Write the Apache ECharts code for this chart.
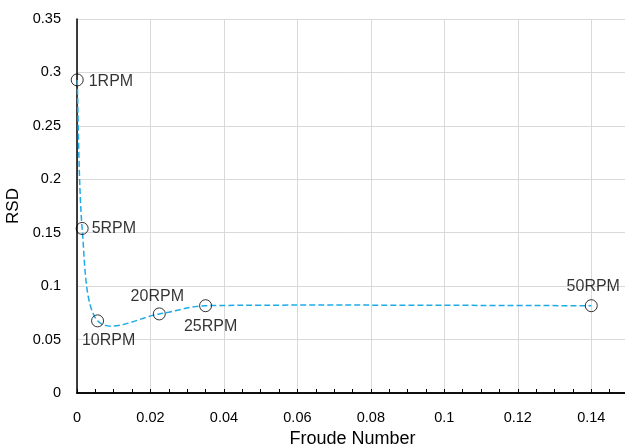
<!DOCTYPE html>
<html>
<head>
<meta charset="utf-8">
<script src="https://cdn.jsdelivr.net/npm/echarts@6/dist/echarts.min.js"></script>
<style>
html,body{margin:0;padding:0;background:#fff;}
#c{width:625px;height:446px;}
</style>
</head>
<body>
<div id="c"></div>
<script>
// Data
var rpmLabels = ['1RPM', '5RPM', '10RPM', '20RPM', '25RPM', '50RPM'];
var froude = [0.000056, 0.0014, 0.0056, 0.0224, 0.035, 0.14];
var rsd = [0.293, 0.154, 0.0675, 0.0740, 0.0817, 0.0817];
var xTicks = [0, 0.02, 0.04, 0.06, 0.08, 0.1, 0.12, 0.14];
var yTicks = [0, 0.05, 0.1, 0.15, 0.2, 0.25, 0.3, 0.35];

var FONT = '"Liberation Sans", Arial, sans-serif';
var TXT = '#000';

// label placement per point (style, not data)
var labelCfg = {
  '1RPM': {position: 'right', distance: 5, offset: [0, 2]},
  '5RPM': {position: 'right', distance: 3, offset: [0, 0]},
  '10RPM': {position: 'bottom', distance: 5, offset: [11, 0]},
  '20RPM': {position: 'top', distance: 3, offset: [-2, 0]},
  '25RPM': {position: 'bottom', distance: 6, offset: [5, 0]},
  '50RPM': {position: 'top', distance: 5, offset: [2, 0]}
};

var pointData = froude.map(function (x, i) {
  var c = labelCfg[rpmLabels[i]];
  return {
    value: [x, rsd[i]],
    name: rpmLabels[i],
    label: {position: c.position, distance: c.distance, offset: c.offset}
  };
});

// Excel-style smoothed curve (Catmull-Rom, tension 1/6, control length limited by segment) in pixel space
function renderCurve(params, api) {
  if (params.dataIndex !== 0) return null;
  var p = froude.map(function (x, i) { return api.coord([x, rsd[i]]); });
  var n = p.length;
  function ctrl(a, b, segLen) {
    var vx = (b[0] - a[0]) / 6, vy = (b[1] - a[1]) / 6;
    var l = Math.sqrt(vx * vx + vy * vy), lim = segLen / 3;
    if (l > lim && l > 0) { vx *= lim / l; vy *= lim / l; }
    return [vx, vy];
  }
  var d = 'M' + p[0][0] + ' ' + p[0][1];
  for (var i = 0; i < n - 1; i++) {
    var p0 = p[Math.max(i - 1, 0)], p1 = p[i], p2 = p[i + 1], p3 = p[Math.min(i + 2, n - 1)];
    var seg = Math.sqrt(Math.pow(p2[0] - p1[0], 2) + Math.pow(p2[1] - p1[1], 2));
    var t1 = ctrl(p0, p2, seg), t2 = ctrl(p1, p3, seg);
    d += ' C' + (p1[0] + t1[0]) + ' ' + (p1[1] + t1[1]) + ' ' + (p2[0] - t2[0]) + ' ' + (p2[1] - t2[1]) + ' ' + p2[0] + ' ' + p2[1];
  }
  return {
    type: 'path',
    shape: {pathData: d},
    style: {fill: null, stroke: '#1eaae7', lineWidth: 1.5, lineDash: [6, 3]}
  };
}

var chart = echarts.init(document.getElementById('c'), null, {renderer: 'canvas'});
chart.setOption({
  animation: false,
  backgroundColor: '#fff',
  grid: {left: 77, width: 551, top: 19, height: 374, containLabel: false, outerBoundsMode: 'none'},
  xAxis: [{
    type: 'value', min: 0, max: 0.15, interval: 0.02,
    name: 'Froude Number', nameLocation: 'middle', nameGap: 34,
    nameTextStyle: {fontFamily: FONT, fontSize: 18, color: TXT},
    axisLine: {show: true, onZero: false, lineStyle: {color: '#000', width: 1.5}},
    axisTick: {show: true, inside: true, length: 4, lineStyle: {color: '#000', width: 1}},
    minorTick: {show: true, splitNumber: 4, length: 4, lineStyle: {color: '#000', width: 1}},
    axisLabel: {margin: 17, fontFamily: FONT, fontSize: 14.5, color: TXT,
      formatter: function (v) { var r = +v.toFixed(4); return xTicks.indexOf(r) >= 0 ? String(r) : ''; }},
    splitLine: {show: true, lineStyle: {color: '#d9d9d9', width: 1}}
  }, {
    type: 'value', position: 'top', min: 0, max: 0.15,
    axisLine: {show: true, lineStyle: {color: '#000', width: 1.5}},
    axisTick: {show: false}, axisLabel: {show: false}, splitLine: {show: false}
  }],
  yAxis: {
    type: 'value', min: 0, max: 0.35, interval: 0.05,
    name: 'RSD', nameLocation: 'middle', nameGap: 43, nameRotate: 90,
    nameTextStyle: {fontFamily: FONT, fontSize: 17, color: TXT},
    axisLine: {show: true, lineStyle: {color: '#000', width: 1.5}},
    axisTick: {show: false},
    axisLabel: {margin: 16, fontFamily: FONT, fontSize: 14.5, color: TXT,
      formatter: function (v) { var r = +v.toFixed(4); return yTicks.indexOf(r) >= 0 ? String(r) : ''; }},
    splitLine: {show: true, lineStyle: {color: '#d9d9d9', width: 1}}
  },
  series: [{
    type: 'custom',
    renderItem: renderCurve,
    data: froude.map(function (x, i) { return [x, rsd[i]]; }),
    clip: false,
    silent: true,
    z: 2
  }, {
    type: 'scatter',
    data: pointData,
    symbol: 'circle',
    symbolSize: 12,
    itemStyle: {color: 'rgba(255,255,255,0)', borderColor: '#000', borderWidth: 1},
    label: {show: true, formatter: '{b}', fontFamily: FONT, fontSize: 16, color: TXT},
    z: 3
  }]
});
</script>
</body>
</html>
